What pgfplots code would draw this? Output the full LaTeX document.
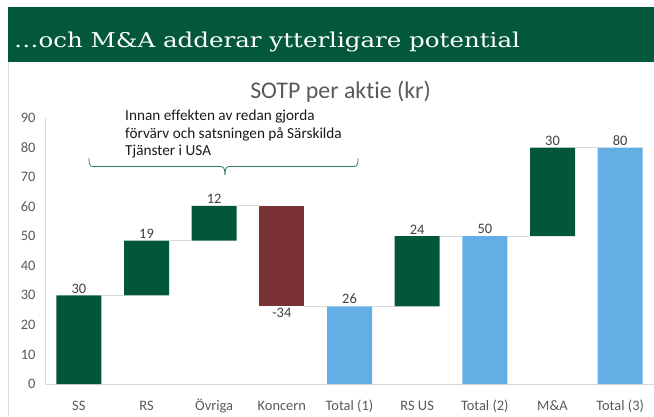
\documentclass[border=0pt]{standalone}
\usepackage{pgfplots}
\pgfplotsset{compat=1.18}
\usepackage{fontspec}
\setmainfont{Carlito}[Ligatures=NoCommon]
\newfontfamily\headfont[FakeStretch=1.2]{DejaVu Serif}
\definecolor{headgreen}{HTML}{03573B}
\definecolor{bargreen}{HTML}{02573A}
\definecolor{barred}{HTML}{7A3234}
\definecolor{barblue}{HTML}{63AEE4}
\definecolor{bracegreen}{HTML}{2F7D5A}
\definecolor{tickgray}{HTML}{595959}
\definecolor{labelgray}{HTML}{404040}
\definecolor{linegray}{HTML}{D9D9D9}
\tikzset{vlab/.style={font=\fontsize{14.5}{17}\selectfont, text=labelgray, inner sep=2bp}}
\begin{document}
\begin{tikzpicture}[x=1bp,y=1bp]
\path[use as bounding box] (0,0) rectangle (654,416);
\fill[headgreen] (8,354) rectangle (654,409);
\node[anchor=base west, text=white, font=\headfont\fontsize{20.5}{24}\selectfont, inner sep=0] at (14,369) {…och M\&A adderar ytterligare potential};
\draw[linegray, line width=0.8bp] (8.5,0) -- (8.5,354);
\begin{axis}[
  at={(45bp,32bp)}, anchor=south west, scale only axis,
  width=609bp, height=266bp,
  xmin=-0.5, xmax=8.5, ymin=0, ymax=90,
  ybar stacked, bar width=45bp,
  axis lines=left,
  axis line style={draw=linegray, line width=0.8bp, -},
  xtick={0,...,8},
  xticklabels={SS,RS,Övriga,Koncern,Total (1),RS US,Total (2),M\&A,Total (3)},
  ytick={0,10,...,90},
  major tick length=0,
  /pgf/number format/assume math mode=true,
  tick label style={font=\fontsize{14.5}{17}\selectfont, text=tickgray},
  xticklabel style={anchor=base, yshift=-26bp},
  yticklabel style={xshift=-6bp},
  clip=false,
]
\addplot[fill=white, draw=none, opacity=0] coordinates {(0,0) (1,30) (2,48.5) (3,26.3) (4,0) (5,26.3) (6,0) (7,50) (8,0)};
\addplot[fill=bargreen, draw=none] coordinates {(0,30) (1,18.5) (2,11.8) (3,0) (4,0) (5,23.7) (6,0) (7,30) (8,0)};
\addplot[fill=barred, draw=none] coordinates {(0,0) (1,0) (2,0) (3,34) (4,0) (5,0) (6,0) (7,0) (8,0)};
\addplot[fill=barblue, draw=none] coordinates {(0,0) (1,0) (2,0) (3,0) (4,26.3) (5,0) (6,50) (7,0) (8,80)};
\node[vlab, above] at (axis cs:0,30) {30};
\node[vlab, above] at (axis cs:1,48.5) {19};
\node[vlab, above] at (axis cs:2,60.3) {12};
\node[vlab, below] at (axis cs:3,26.3) {-34};
\node[vlab, above] at (axis cs:4,26.3) {26};
\node[vlab, above] at (axis cs:5,50) {24};
\node[vlab, above] at (axis cs:6,50) {50};
\node[vlab, above] at (axis cs:7,80) {30};
\node[vlab, above] at (axis cs:8,80) {80};
\end{axis}
\begin{axis}[
  at={(45bp,32bp)}, anchor=south west, scale only axis,
  width=609bp, height=266bp,
  xmin=-0.5, xmax=8.5, ymin=0, ymax=90,
  axis lines=none, ticks=none, clip=false,
  unbounded coords=jump,
]
\addplot[linegray, line width=1.2bp] coordinates {
 (0.332,30) (0.668,30) (0.7,nan)
 (1.332,48.5) (1.668,48.5) (1.7,nan)
 (2.332,60.3) (2.668,60.3) (2.7,nan)
 (3.332,26.3) (3.668,26.3) (3.7,nan)
 (4.332,26.3) (4.668,26.3) (4.7,nan)
 (5.332,50) (5.668,50) (5.7,nan)
 (6.332,50) (6.668,50) (6.7,nan)
 (7.332,80) (7.668,80)
};
\end{axis}
\node[anchor=base, inner sep=0, font=\fontsize{24}{28}\selectfont, text=tickgray] at (340.5,318) {SOTP per aktie (kr)};
\node[anchor=base west, inner sep=0, font=\fontsize{15.3}{18}\selectfont, text=black!90] at (125,296) {Innan effekten av redan gjorda};
\node[anchor=base west, inner sep=0, font=\fontsize{15.3}{18}\selectfont, text=black!90] at (125,278) {förvärv och satsningen på Särskilda};
\node[anchor=base west, inner sep=0, font=\fontsize{15.3}{18}\selectfont, text=black!90] at (125,261) {Tjänster i USA};
\draw[bracegreen, line width=0.8bp] (89,258) to[out=-90,in=180] (92.5,249.5) -- (221,249.5) to[out=0,in=90] (225,241);
\draw[bracegreen, line width=0.8bp] (225,241) to[out=90,in=180] (229,249.5) -- (354.5,249.5) to[out=0,in=-90] (358,258);
\end{tikzpicture}
\end{document}
